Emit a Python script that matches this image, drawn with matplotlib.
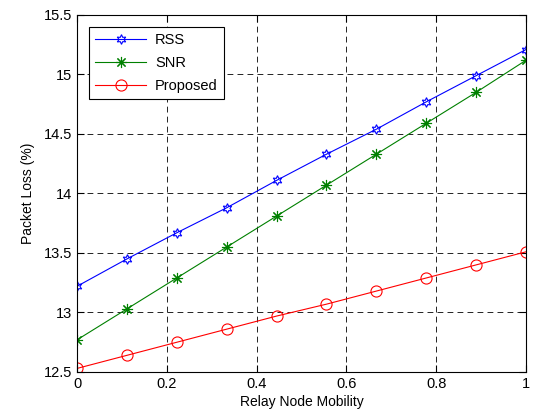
import numpy as np
import matplotlib
matplotlib.use('Agg')
import matplotlib.pyplot as plt

plt.rcParams['font.family'] = ['Liberation Sans', 'DejaVu Sans']

mobility = np.linspace(0, 1, 10)
rss = [13.22, 13.45, 13.67, 13.88, 14.11, 14.33, 14.54, 14.77, 14.99, 15.21]
snr = [12.77, 13.03, 13.29, 13.55, 13.81, 14.07, 14.33, 14.59, 14.85, 15.12]
proposed = [12.53, 12.64, 12.75, 12.86, 12.97, 13.07, 13.18, 13.29, 13.40, 13.51]

fig = plt.figure(figsize=(5.36, 4.19), dpi=100)
ax = fig.add_axes([77/536, 1 - 372/419, (526-77)/536, (372-15)/419])

ax.plot(mobility, rss, color='#0000ff', lw=0.8, marker=(6, 1, 0), ms=7,
        mfc='none', mec='#0000ff', mew=0.8, label='RSS')
ax.plot(mobility, snr, color='#008000', lw=0.8, marker=(8, 2, 0), ms=8,
        mfc='none', mec='#008000', mew=0.8, label='SNR')
ax.plot(mobility, proposed, color='#ff0000', lw=0.8, marker='o', ms=8,
        mfc='none', mec='#ff0000', mew=0.8, label='Proposed')

ax.set_xlim(0, 1)
ax.set_ylim(12.5, 15.5)
ax.set_xticks(np.arange(0, 1.01, 0.2))
ax.set_xticklabels(['0', '0.2', '0.4', '0.6', '0.8', '1'])
ax.set_yticks(np.arange(12.5, 15.51, 0.5))
ax.set_yticklabels(['12.5', '13', '13.5', '14', '14.5', '15', '15.5'])
ax.tick_params(direction='in', top=True, right=True, labelsize=10.5, length=5)
ax.grid(True, color='black', linestyle=(0, (7, 5)), linewidth=0.6)
for s in ax.spines.values():
    s.set_linewidth(0.8)

ax.set_xlabel('Relay Node Mobility', fontsize=10, labelpad=3)
ax.set_ylabel('Packet Loss (%)', fontsize=10, labelpad=6)

leg = ax.legend(loc='upper left', fontsize=10.5, fancybox=False, framealpha=1,
                edgecolor='black', borderaxespad=0.8, handlelength=3.5,
                labelspacing=0.6, borderpad=0.45, handletextpad=0.6)
leg.get_frame().set_linewidth(0.8)

fig.savefig('out.png', dpi=100)
